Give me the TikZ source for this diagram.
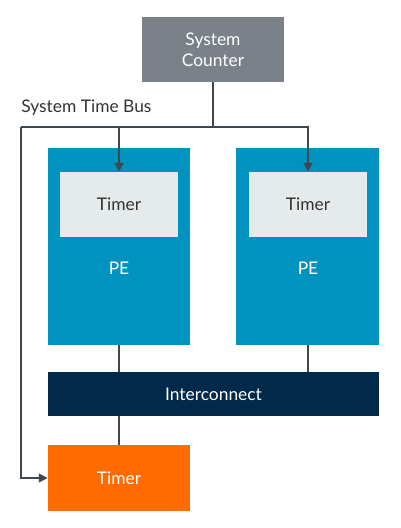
\documentclass[tikz,border=0pt]{standalone}
\usepackage{fontspec}
\setmainfont{Lato}
\usetikzlibrary{calc, positioning, arrows.meta}
\definecolor{sysgray}{HTML}{7B8188}
\definecolor{peblue}{HTML}{0093C0}
\definecolor{tmrgray}{HTML}{E5EAEA}
\definecolor{icnavy}{HTML}{00294A}
\definecolor{gtorange}{HTML}{FF6B00}
\definecolor{wire}{HTML}{3E4852}
\newcommand{\fsBody}{\fontsize{9.9}{12}\selectfont}

\begin{document}
\begin{tikzpicture}[x=0.02cm, y=-0.02cm, every node/.style={font=\fsBody},
  blk/.style={rectangle, inner sep=0pt, draw=none},
  wireline/.style={draw=wire, line width=0.85pt},
  feed/.style={wireline, -{Triangle[length=5pt, width=5pt]}}]
  \useasboundingbox (0,0) rectangle (400,528);

  % blocks
  \node[blk, fill=sysgray, text=white, minimum width=2.84cm, minimum height=1.3cm, align=center]
    (counter) at (213,49.5) {System\\Counter};
  \node[blk, fill=peblue, minimum width=2.84cm, minimum height=3.94cm] (peL) at (119,246.5) {};
  \node[blk, fill=peblue, minimum width=2.86cm, minimum height=3.94cm] (peR) at (307.5,246.5) {};
  \node[blk, fill=tmrgray, text=black!80, minimum width=2.36cm, minimum height=1.3cm] (timerL) at (119,204.5) {Timer};
  \node[blk, fill=tmrgray, text=black!80, minimum width=2.36cm, minimum height=1.3cm] (timerR) at (308,204.5) {Timer};
  \node[text=white] (peLtxt) at (119,268) {PE};
  \node[text=white] (peRtxt) at (308,268) {PE};
  \node[blk, fill=icnavy, text=white, minimum width=6.62cm, minimum height=0.88cm] (ic) at (213.5,394) {Interconnect};
  \node[blk, fill=gtorange, text=white, minimum width=2.84cm, minimum height=1.32cm] (gtimer) at (119,478) {Timer};
  \node[anchor=west, inner sep=0pt, text=black!80] (bustxt) at (21,108) {System Time Bus};

  % system time bus
  \coordinate (busL) at (21,127);
  \draw[wireline] (counter.south) -- (counter.south |- busL);
  \draw[feed] (busL) -| (timerR.north);
  \draw[feed] (timerL.north |- busL) -- (timerL.north);
  \draw[feed] (busL) |- (gtimer.west);

  % interconnect links
  \draw[wireline] (peL.south -| timerL) -- (ic.north -| timerL);
  \draw[wireline] (peR.south -| timerR) -- (ic.north -| timerR);
  \draw[wireline] (gtimer.north |- ic.south) -- (gtimer.north);
\end{tikzpicture}
\end{document}
